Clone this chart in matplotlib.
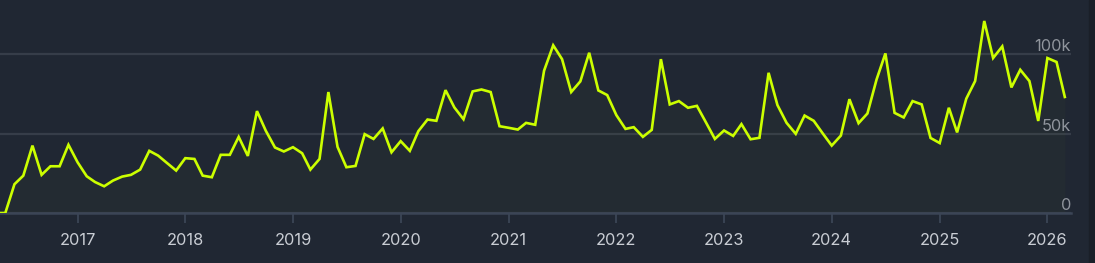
import pandas as pd
import matplotlib.pyplot as plt
import matplotlib.dates as mdates
import matplotlib.transforms as mtransforms

plt.rcParams['font.family'] = ['Inter', 'DejaVu Sans']

# monthly values in thousands, starting April 2016
start = "2016-04-01"
values_k = [
    0, 0, 18.1, 23.5, 42.4, 24, 29.4, 29.4, 42.9,
    31.9, 23.1, 19.5, 16.8, 20.4, 22.9, 24, 27.3, 39.1, 36.1, 31.3, 26.7,
    34.5, 34, 23.5, 22.5, 36.6, 36.6, 47.9, 35.9, 64.1, 51.7, 41.2, 38.7,
    41.4, 37.6, 27.3, 34, 76.1, 41.6, 28.8, 29.6, 49.6, 46.6, 53.2, 38.2,
    45.2, 39.1, 51.5, 58.8, 58, 77.3, 66.4, 59, 76.5, 77.7, 76.1, 54.6,
    53.6, 52.5, 56.7, 55.5, 89.5, 105.5, 96.8, 76.1, 82.8, 100.8, 77.1, 74.2,
    61.6, 52.9, 54, 47.9, 52.3, 96.8, 68.3, 70.4, 66.2, 67.4, 56.9, 46.6,
    51.9, 48.5, 55.9, 46.4, 47.3, 88.2, 67.9, 56.7, 49.8, 61.3, 58, 50.2,
    42.4, 48.7, 71.6, 56.5, 62.6, 84, 100.4, 63, 60.1, 70.4, 68.3, 47.2,
    44, 66.2, 50.7, 71.9, 83, 120.8, 97.5, 104.8, 79, 90.1, 83, 57.9,
    97.5, 95, 73,
]
y_ticks = [0, 50000, 100000]
y_labels = ["0", "50k", "100k"]
years = list(range(2017, 2027))

dates = pd.date_range(start, periods=len(values_k), freq="MS")
values = [v * 1000 for v in values_k]

bg = "#202733"
line_color = "#ccff00"

fig = plt.figure(figsize=(10.95, 2.63), dpi=100, facecolor=bg)
# darker strip at the right edge
fig.patches.append(plt.Rectangle((1089 / 1095, 0), 1, 1, transform=fig.transFigure,
                                 color="#1a1f28", zorder=0))
ax = fig.add_axes([0, 50 / 263, 1071 / 1095, 213 / 263])
ax.set_facecolor(bg)

ax.fill_between(dates, values, 0, color=line_color, alpha=0.018, lw=0)
ax.plot(dates, values, color=line_color, lw=1.9, solid_joinstyle="miter", zorder=3)

ax.set_xlim(pd.Timestamp("2016-04-13"), pd.Timestamp("2026-03-22"))
ax.set_ylim(0, 134000)

ax.set_yticks(y_ticks)
ax.tick_params(axis="y", left=False, labelleft=False)
ax.grid(axis="y", color="#363d49", lw=1.6)
ax.set_axisbelow(True)

trans = mtransforms.blended_transform_factory(ax.transAxes, ax.transData)
for v, lab in zip(y_ticks, y_labels):
    ax.text(1.0, v, lab, transform=trans, ha="right", va="bottom",
            color="#8f949c", fontsize=11.8)

ax.set_xticks([pd.Timestamp(f"{y}-01-01") for y in years])
ax.xaxis.set_major_formatter(mdates.DateFormatter("%Y"))
ax.tick_params(axis="x", length=7.5, width=1.3, color="#3b4556",
               labelcolor="#c9cdd4", labelsize=11.8, pad=7)

for s in ["top", "left", "right"]:
    ax.spines[s].set_visible(False)
ax.spines["bottom"].set_color("#3b4556")
ax.spines["bottom"].set_linewidth(1.8)

fig.savefig("out.png", dpi=100, facecolor=bg)
